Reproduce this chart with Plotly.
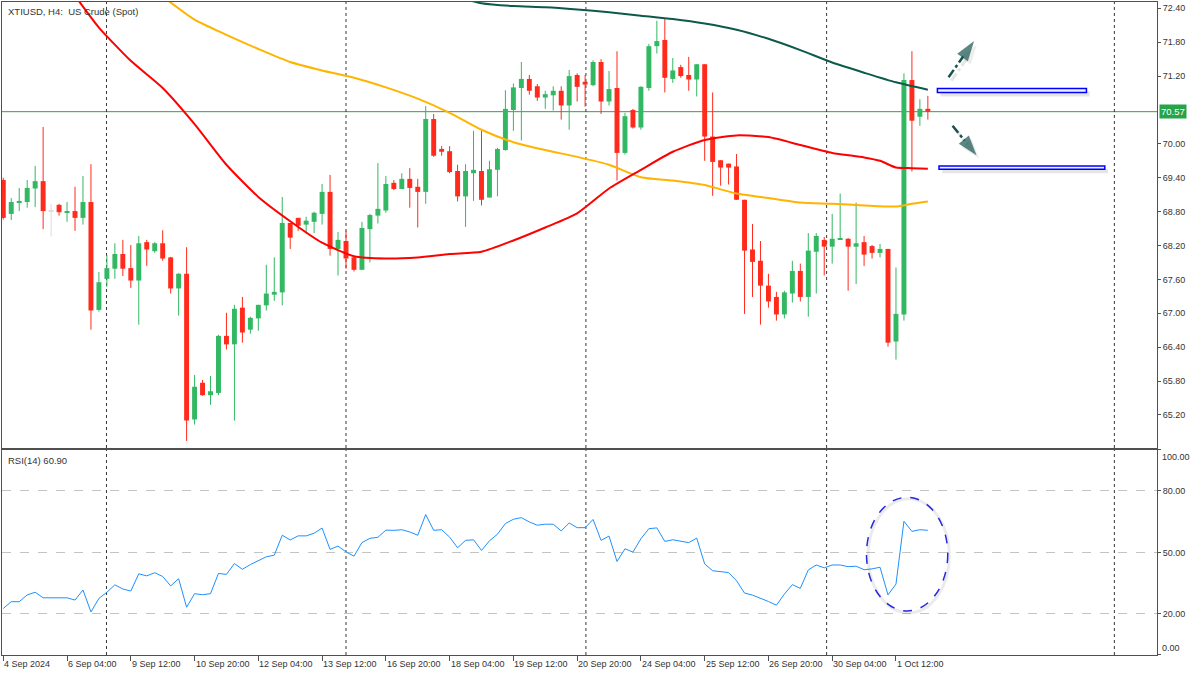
import plotly.graph_objects as go

# ---------------- data ----------------
opens = [69.36, 68.76, 68.96, 68.97, 69.21, 69.34, 68.80, 68.92, 68.79, 68.81,
         68.69, 68.97, 67.06, 67.61, 67.79, 68.05, 67.80, 67.58, 68.26, 68.10,
         68.24, 67.99, 67.44, 67.70, 65.12, 65.77, 65.55, 65.59, 66.60, 66.45,
         67.10, 66.71, 66.91, 67.14, 67.33, 67.37, 68.60, 68.69, 68.57, 68.62,
         68.76, 69.15, 68.14, 68.28, 67.99, 67.77, 68.49, 68.73, 68.82, 69.31,
         69.20, 69.38, 69.24, 69.15, 70.44, 69.91, 69.87, 69.52, 69.07, 69.48,
         69.52, 69.05, 69.54, 69.89, 70.60, 70.99, 71.15, 71.02, 70.82, 70.86,
         70.94, 70.68, 71.22, 71.10, 71.04, 71.45, 70.75, 70.99, 69.84, 70.60,
         70.29, 70.99, 71.73, 71.84, 71.15, 71.36, 71.22, 71.14, 71.41, 70.13,
         69.71, 69.65, 69.60, 69.01, 68.13, 67.93, 67.49, 67.29, 66.98, 67.35,
         67.75, 67.29, 68.09, 68.30, 68.18, 68.30, 68.32, 68.18, 68.26, 68.19,
         68.07, 68.14, 66.50, 66.98, 71.13, 70.48, 70.62]
highs = [69.40, 69.04, 69.22, 69.36, 69.61, 70.30, 68.94, 68.94, 68.97, 69.24,
         69.43, 69.64, 67.73, 68.03, 68.24, 68.30, 68.21, 68.37, 68.30, 68.26,
         68.47, 68.00, 67.71, 68.17, 65.91, 65.82, 65.89, 66.62, 67.01, 67.15,
         67.29, 66.94, 67.15, 67.86, 67.99, 69.06, 68.60, 68.69, 68.71, 68.80,
         69.29, 69.45, 68.44, 68.46, 68.02, 68.62, 68.76, 69.66, 69.43, 69.36,
         69.48, 69.57, 69.38, 70.67, 70.53, 69.96, 69.96, 69.63, 69.64, 70.23,
         70.23, 69.70, 69.93, 70.95, 71.07, 71.45, 71.22, 71.06, 70.94, 71.02,
         71.02, 71.31, 71.25, 71.22, 71.48, 71.50, 71.29, 71.64, 70.55, 70.62,
         71.02, 71.77, 72.18, 72.21, 71.52, 71.40, 71.54, 71.41, 71.41, 70.91,
         69.71, 69.65, 69.82, 69.01, 68.58, 68.28, 67.70, 67.38, 67.40, 67.93,
         67.88, 68.42, 68.42, 68.35, 68.76, 69.12, 68.33, 68.96, 68.37, 68.21,
         68.23, 68.14, 67.81, 71.25, 71.64, 70.79, 70.85]
lows = [68.66, 68.65, 68.81, 68.87, 68.88, 68.49, 68.36, 68.73, 68.62, 68.46,
        68.57, 66.71, 67.03, 67.47, 67.61, 67.66, 67.45, 66.80, 67.84, 68.07,
        67.93, 67.35, 66.96, 64.74, 65.03, 65.54, 65.38, 65.55, 66.36, 65.10,
        66.48, 66.64, 66.69, 67.05, 67.22, 67.14, 68.14, 68.46, 68.41, 68.42,
        68.57, 68.02, 67.67, 67.79, 67.74, 67.77, 67.90, 68.59, 68.78, 69.18,
        69.20, 68.87, 68.52, 68.94, 69.77, 69.79, 69.48, 68.98, 68.53, 68.99,
        68.91, 69.05, 69.07, 69.88, 70.23, 70.06, 70.87, 70.76, 70.62, 70.59,
        70.43, 70.25, 70.75, 70.66, 71.02, 70.53, 70.68, 69.35, 69.81, 70.27,
        70.25, 70.94, 71.60, 70.91, 71.08, 71.17, 70.94, 70.84, 69.70, 69.08,
        69.26, 69.28, 69.01, 66.99, 67.29, 66.80, 67.10, 66.87, 66.91, 67.19,
        67.21, 66.94, 67.35, 67.67, 67.88, 68.30, 67.40, 67.52, 67.84, 67.97,
        67.99, 66.41, 66.18, 66.87, 69.51, 70.32, 70.43]
closes = [68.69, 68.97, 68.99, 69.22, 69.34, 68.81, 68.80, 68.79, 68.81, 68.69,
          68.97, 67.05, 67.55, 67.80, 68.05, 67.79, 67.58, 68.24, 68.13, 68.24,
          67.97, 67.44, 67.70, 65.10, 65.70, 65.55, 65.62, 66.60, 66.45, 67.08,
          66.66, 66.92, 67.15, 67.35, 67.38, 68.60, 68.34, 68.55, 68.64, 68.78,
          69.15, 68.14, 68.30, 67.97, 67.77, 68.51, 68.74, 68.85, 69.29, 69.20,
          69.38, 69.22, 69.15, 70.44, 69.79, 69.86, 69.50, 69.07, 69.52, 69.54,
          69.01, 69.55, 69.91, 70.62, 71.00, 71.15, 70.94, 70.82, 70.88, 70.94,
          70.68, 71.20, 71.01, 71.05, 71.45, 70.75, 70.97, 69.84, 70.49, 70.29,
          71.01, 71.73, 71.82, 71.17, 71.30, 71.20, 71.14, 71.41, 70.13, 69.68,
          69.58, 69.58, 69.01, 68.11, 67.91, 67.49, 67.21, 66.98, 67.37, 67.75,
          67.29, 68.11, 68.37, 68.18, 68.32, 68.32, 68.18, 68.24, 68.04, 68.07,
          68.14, 66.48, 66.99, 71.13, 70.41, 70.62, 70.57]

ma_red_idx = [8, 10, 12, 16, 20, 24, 28, 32, 36, 40, 44, 48, 52, 56, 60, 64, 68,
              72, 76, 80, 84, 88, 92, 96, 100, 104, 108, 110, 112, 114, 116]
ma_red_val = [72.82, 72.43, 72.06, 71.47, 70.99, 70.35, 69.63, 69.06, 68.63,
              68.25, 68.01, 67.97, 67.99, 68.05, 68.09, 68.29, 68.52, 68.77,
              69.21, 69.54, 69.86, 70.07, 70.15, 70.12, 69.98, 69.84, 69.76,
              69.70, 69.58, 69.57, 69.56]
ma_orange_idx = [20, 24, 28, 32, 36, 40, 44, 48, 52, 56, 60, 64, 68, 72, 76, 80,
                 84, 88, 92, 96, 100, 104, 108, 112, 114, 116]
ma_orange_val = [72.61, 72.20, 71.93, 71.68, 71.45, 71.30, 71.17, 71.00, 70.80,
                 70.55, 70.25, 70.03, 69.89, 69.77, 69.63, 69.41, 69.35, 69.27,
                 69.12, 69.04, 68.96, 68.94, 68.91, 68.89, 68.94, 68.98]
ma_teal_idx = [58, 60, 64, 68, 72, 76, 80, 84, 88, 92, 96, 100, 104, 108, 112, 116]
ma_teal_val = [72.56, 72.49, 72.44, 72.42, 72.38, 72.33, 72.27, 72.21, 72.13,
               72.02, 71.86, 71.66, 71.44, 71.26, 71.09, 70.96]

rsi = [22.7, 26.0, 26.0, 29.3, 30.6, 27.9, 27.9, 27.9, 27.9, 26.8, 31.7, 21.0,
       27.6, 30.6, 34.2, 32.2, 31.2, 39.6, 38.6, 40.1, 38.3, 33.7, 37.2, 23.3,
       29.9, 29.4, 29.9, 39.8, 39.3, 44.6, 41.8, 44.1, 46.2, 47.9, 48.7, 58.4,
       56.1, 58.1, 58.1, 59.4, 61.9, 51.5, 53.1, 50.3, 48.2, 54.8, 56.9, 57.4,
       60.9, 60.8, 61.1, 60.0, 58.4, 68.5, 60.8, 61.1, 57.5, 52.3, 55.9, 56.2,
       51.0, 55.7, 58.9, 64.1, 66.2, 67.0, 64.9, 63.3, 63.8, 63.8, 60.5, 64.4,
       62.1, 62.1, 66.1, 55.9, 58.0, 45.6, 51.8, 50.2, 56.7, 61.6, 62.0, 55.4,
       56.2, 55.6, 54.8, 57.0, 44.4, 41.1, 40.7, 40.2, 36.2, 30.2, 29.2, 27.7,
       26.1, 24.3, 29.7, 34.3, 32.5, 41.5, 43.9, 42.5, 43.9, 43.9, 43.1, 43.3,
       41.6, 42.0, 42.8, 29.3, 34.6, 65.2, 60.3, 61.1, 60.8]

date_tick_idx = [0, 8, 16, 24, 32, 40, 48, 56, 64, 72, 80, 88, 96, 104, 112]
date_tick_labels = ["4 Sep 2024", "6 Sep 04:00", "9 Sep 12:00", "10 Sep 20:00",
                    "12 Sep 04:00", "13 Sep 12:00", "16 Sep 20:00", "18 Sep 04:00",
                    "19 Sep 12:00", "20 Sep 20:00", "24 Sep 04:00", "25 Sep 12:00",
                    "26 Sep 20:00", "30 Sep 04:00", "1 Oct 12:00"]
price_ticks = [72.40, 71.80, 71.20, 70.00, 69.40, 68.80, 68.20, 67.60, 67.00,
               66.40, 65.80, 65.20]
last_price = 70.57
rsi_last = 60.90
vgrid_idx = [12.95, 43.0, 73.1, 103.3, 139.4]
upper_zone = (70.91, 70.98)
lower_zone = (69.55, 69.61)

# ---------------- styling ----------------
GREEN = "#33b863"
RED = "#ff2b1c"
GREY = "#dcdcdc"
FRAME = "#505050"
TXT = "#333333"
FONT = "Liberation Sans"

n = len(opens)
idx = list(range(n))
colors, bases, heights = [], [], []
for o, c in zip(opens, closes):
    colors.append(GREEN if c > o else (RED if c < o else GREY))
    bases.append(min(o, c))
    heights.append(max(abs(c - o), 0.018))

fig = go.Figure()

# wicks
for col in (GREEN, RED, GREY):
    wx, wy = [], []
    for i in idx:
        if colors[i] == col:
            wx += [i, i, None]
            wy += [lows[i], highs[i], None]
    fig.add_trace(go.Scatter(x=wx, y=wy, mode="lines", line=dict(color=col, width=1),
                             hoverinfo="skip", xaxis="x", yaxis="y"))

# bodies
fig.add_trace(go.Bar(x=idx, y=heights, base=bases, width=0.62,
                     marker=dict(color=colors, line=dict(width=0)),
                     hoverinfo="skip", xaxis="x", yaxis="y"))

# moving averages
for mx, my, col in ((ma_orange_idx, ma_orange_val, "#ffb400"),
                    (ma_red_idx, ma_red_val, "#ff0000"),
                    (ma_teal_idx, ma_teal_val, "#0d5a4c")):
    fig.add_trace(go.Scatter(x=mx, y=my, mode="lines",
                             line=dict(color=col, width=2, shape="spline", smoothing=0.6),
                             hoverinfo="skip", xaxis="x", yaxis="y"))

# arrows (shadow + arrow)
arrows = [((118.6, 71.18), (121.8, 71.82)), ((119.1, 70.32), (122.1, 69.80))]
for (x0, y0), (x1, y1) in arrows:
    fig.add_trace(go.Scatter(x=[x0 + 0.35, x1 + 0.35], y=[y0 - 0.06, y1 - 0.06],
                             mode="lines+markers",
                             line=dict(color="rgba(0,0,0,0.10)", width=3, dash="dashdot"),
                             marker=dict(symbol="arrow", size=[0, 21], angleref="previous",
                                         color="rgba(0,0,0,0.10)", line=dict(width=0)),
                             hoverinfo="skip", xaxis="x", yaxis="y"))
    fig.add_trace(go.Scatter(x=[x0, x1], y=[y0, y1], mode="lines+markers",
                             line=dict(color="#17524d", width=2.5, dash="dashdot"),
                             marker=dict(symbol="arrow", size=[0, 21], angleref="previous",
                                         color="#17524d", line=dict(width=0)),
                             hoverinfo="skip", xaxis="x", yaxis="y"))

# RSI
fig.add_trace(go.Scatter(x=idx, y=rsi, mode="lines", line=dict(color="#1e90ff", width=1),
                         hoverinfo="skip", xaxis="x2", yaxis="y2"))

shapes = []
# current price line
shapes.append(dict(type="line", xref="x domain", yref="y", x0=0, x1=1,
                   y0=last_price, y1=last_price, line=dict(color="#3a9a4c", width=1),
                   layer="below"))
# vertical dashed grid
for v in vgrid_idx:
    for yr in ("y domain", "y2 domain"):
        shapes.append(dict(type="line", xref="x", yref=yr, x0=v, x1=v, y0=0, y1=1,
                           line=dict(color="#383838", width=1, dash="3px,3px"),
                           layer="below"))
# zones with shadow
for (lo, hi), (xa, xb) in ((upper_zone, (117.2, 135.9)), (lower_zone, (117.4, 138.2))):
    shapes.append(dict(type="rect", xref="x", yref="y", x0=xa + 0.4, x1=xb + 0.4,
                       y0=lo - 0.07, y1=hi - 0.05, line=dict(width=0),
                       fillcolor="rgba(0,0,0,0.10)"))
    shapes.append(dict(type="rect", xref="x", yref="y", x0=xa, x1=xb, y0=lo, y1=hi,
                       line=dict(color="#0000ff", width=1.5), fillcolor="#eef2ff"))
# ellipse in RSI
shapes.append(dict(type="circle", xref="x2", yref="y2", x0=108.5, x1=118.7,
                   y0=20.5, y1=76.2, line=dict(color="rgba(0,0,0,0.08)", width=3)))
shapes.append(dict(type="circle", xref="x2", yref="y2", x0=108.3, x1=118.5,
                   y0=21.5, y1=76.9, line=dict(color="#2727e0", width=1.5, dash="dash")))

annotations = []
annotations.append(dict(xref="paper", yref="paper", x=0, y=1, xanchor="left",
                        yanchor="top", xshift=4, yshift=-2, showarrow=False,
                        text="XTIUSD, H4:&nbsp; US Crude (Spot)",
                        font=dict(family=FONT, size=9.5, color=TXT)))
annotations.append(dict(xref="paper", yref="y2 domain", x=0, y=1, xanchor="left",
                        yanchor="top", xshift=4, yshift=-3, showarrow=False,
                        text=f"RSI(14) {rsi_last:.2f}",
                        font=dict(family=FONT, size=9.5, color=TXT)))
annotations.append(dict(xref="paper", yref="y", x=1, y=last_price, xanchor="left",
                        yanchor="middle", xshift=2, showarrow=False,
                        text=f"{last_price:.2f}", bgcolor="#27a348", borderpad=1,
                        font=dict(family=FONT, size=9.5, color="white")))
annotations.append(dict(xref="paper", yref="y2", x=1, y=100, xanchor="left",
                        yanchor="top", xshift=3, yshift=0, showarrow=False,
                        text="100.00", font=dict(family=FONT, size=9, color=TXT)))
annotations.append(dict(xref="paper", yref="y2", x=1, y=0, xanchor="left",
                        yanchor="bottom", xshift=3, yshift=0, showarrow=False,
                        text="0.00", font=dict(family=FONT, size=9, color=TXT)))
for ti, tl in zip(date_tick_idx, date_tick_labels):
    annotations.append(dict(xref="x2", yref="paper", x=ti, y=0, xanchor="left",
                            yanchor="top", xshift=-1, yshift=-2, showarrow=False,
                            text=tl, font=dict(family=FONT, size=9, color=TXT)))

axis_common = dict(showline=True, mirror=True, linecolor=FRAME, linewidth=1,
                   zeroline=False)
fig.update_layout(
    width=1200, height=675,
    margin=dict(l=2, r=43, t=2, b=20),
    paper_bgcolor="white", plot_bgcolor="white",
    showlegend=False, barmode="overlay",
    shapes=shapes, annotations=annotations,
    xaxis=dict(domain=[0, 1], anchor="y", range=[-0.16, 144.75], showgrid=False,
               showticklabels=False, ticks="", **axis_common),
    yaxis=dict(domain=[0.317, 1], anchor="x", range=[64.615, 72.512], side="right",
               tickvals=price_ticks, ticktext=[f"{t:.2f}" for t in price_ticks],
               ticks="outside", ticklen=3, tickcolor=FRAME, showgrid=False,
               tickfont=dict(family=FONT, size=9, color=TXT), **axis_common),
    xaxis2=dict(domain=[0, 1], anchor="y2", matches="x", range=[-0.16, 144.75],
                showgrid=False, tickvals=date_tick_idx,
                ticktext=[""] * len(date_tick_idx), ticks="outside", ticklen=5,
                tickcolor=FRAME, **axis_common),
    yaxis2=dict(domain=[0, 0.314], anchor="x2", range=[0, 100], side="right",
                tickvals=[100, 80, 50, 20, 0], ticktext=["", "80.00", "50.00", "20.00", ""],
                ticks="outside", ticklen=3, tickcolor=FRAME,
                showgrid=True, gridcolor="#c4c4c4", griddash="dash", gridwidth=1,
                tickfont=dict(family=FONT, size=9, color=TXT), **axis_common),
)

fig.write_html("out.html", config={"displayModeBar": False},
               post_script="document.body.style.margin='0px';")
